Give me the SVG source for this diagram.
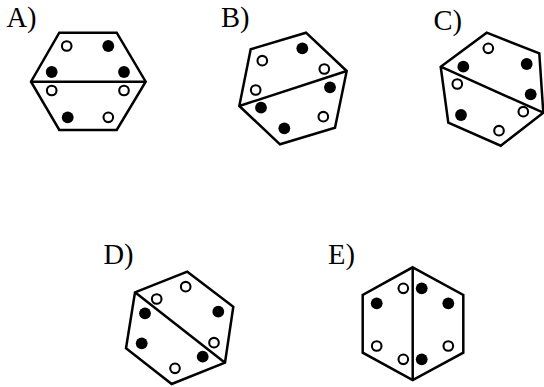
<svg xmlns="http://www.w3.org/2000/svg" width="544" height="387" viewBox="0 0 544 387">
<style>
.hex{fill:none;stroke:#000;stroke-width:2.5;stroke-linejoin:miter}
.ln{stroke:#000;stroke-width:2.5}
.f{fill:#000}
.o{fill:#fff;stroke:#000;stroke-width:2.1}
.lbl{font-family:"Liberation Serif","Times New Roman",serif;font-size:28.5px;fill:#000}
</style>
<rect width="544" height="387" fill="#fff"/>
<g id="A">
<text class="lbl" x="6.5" y="27">A)</text>
<polygon class="hex" points="59.3,32.7 116.7,32.7 145.7,81.7 116.7,130 59.3,130 31,81.7"/>
<line class="ln" x1="31" y1="81.7" x2="145.7" y2="81.7"/>
<circle class="o" cx="66.7" cy="46" r="4.8"/>
<circle class="f" cx="108.3" cy="46" r="5.9"/>
<circle class="f" cx="51.7" cy="72" r="5.9"/>
<circle class="f" cx="124" cy="72" r="5.9"/>
<circle class="o" cx="51.7" cy="90.5" r="4.8"/>
<circle class="o" cx="124" cy="90.5" r="4.8"/>
<circle class="f" cx="67.7" cy="117.3" r="5.9"/>
<circle class="o" cx="108.3" cy="117.3" r="4.8"/>
</g>
<g id="B">
<text class="lbl" x="221" y="27">B)</text>
<polygon class="hex" points="250.7,49.3 306,32.7 346.7,71 335,127.7 280,144.3 239.3,106"/>
<line class="ln" x1="239.3" y1="106" x2="346.7" y2="71"/>
<circle class="o" cx="262.3" cy="60.7" r="4.8"/>
<circle class="f" cx="302.3" cy="48.3" r="5.9"/>
<circle class="o" cx="324.3" cy="69" r="4.8"/>
<circle class="o" cx="255.7" cy="90" r="4.8"/>
<circle class="f" cx="330" cy="87.3" r="5.9"/>
<circle class="f" cx="261" cy="107.7" r="5.9"/>
<circle class="o" cx="323.3" cy="116.7" r="4.8"/>
<circle class="f" cx="284.3" cy="128.3" r="5.9"/>
</g>
<g id="C">
<text class="lbl" x="433.5" y="29.5">C)</text>
<polygon class="hex" points="486.7,32.7 539.3,53.3 543.3,112.7 500.7,145.7 448.3,122.7 440.7,66.7"/>
<line class="ln" x1="440.7" y1="66.7" x2="543.3" y2="112.7"/>
<circle class="o" cx="488.3" cy="48.3" r="4.8"/>
<circle class="f" cx="463.3" cy="66.7" r="5.9"/>
<circle class="f" cx="526.7" cy="64" r="5.9"/>
<circle class="o" cx="457.3" cy="84" r="4.8"/>
<circle class="f" cx="530.7" cy="94.3" r="5.9"/>
<circle class="f" cx="461" cy="115" r="5.9"/>
<circle class="o" cx="523.3" cy="111.7" r="4.8"/>
<circle class="o" cx="499" cy="130.7" r="4.8"/>
</g>
<g id="D">
<text class="lbl" x="103.5" y="263.5">D)</text>
<polygon class="hex" points="187.3,271.7 233.3,306.7 225,362.7 171.7,384 126,348.3 135,292.3"/>
<line class="ln" x1="135" y1="292.3" x2="225" y2="362.7"/>
<circle class="o" cx="185.7" cy="286.7" r="4.8"/>
<circle class="o" cx="156.7" cy="299" r="4.8"/>
<circle class="f" cx="145" cy="313.3" r="5.9"/>
<circle class="f" cx="218.3" cy="311.7" r="5.9"/>
<circle class="f" cx="141.7" cy="343.3" r="5.9"/>
<circle class="o" cx="214" cy="342.7" r="4.8"/>
<circle class="f" cx="202.7" cy="356.7" r="5.9"/>
<circle class="o" cx="175" cy="368.3" r="4.8"/>
</g>
<g id="E">
<text class="lbl" x="328" y="263.5">E)</text>
<polygon class="hex" points="412.7,267.3 463.3,295 463.3,352.7 412.7,380 362.7,352.7 362.7,295"/>
<line class="ln" x1="412.7" y1="267.3" x2="412.7" y2="380"/>
<circle class="o" cx="403.3" cy="288.3" r="4.8"/>
<circle class="f" cx="421.7" cy="288.3" r="5.9"/>
<circle class="f" cx="376.7" cy="303.3" r="5.9"/>
<circle class="f" cx="448.3" cy="303.3" r="5.9"/>
<circle class="o" cx="376.7" cy="346" r="4.8"/>
<circle class="o" cx="448.3" cy="346" r="4.8"/>
<circle class="o" cx="403.3" cy="359.3" r="4.8"/>
<circle class="f" cx="421.7" cy="359.3" r="5.9"/>
</g>
<g id="connectors"/>
</svg>
